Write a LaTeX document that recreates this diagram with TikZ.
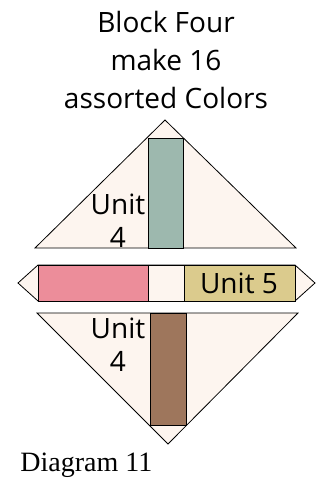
\documentclass[tikz,border=0pt]{standalone}
\usepackage{fontspec}
\setmainfont{Liberation Serif}
\setsansfont{Open Sans}

\definecolor{cream}{HTML}{FDF5EF}
\definecolor{sage}{HTML}{9DB8AE}
\definecolor{rose}{HTML}{EC8D9A}
\definecolor{straw}{HTML}{DBCB8D}
\definecolor{bark}{HTML}{9E765C}

\tikzstyle{quilt_style}=[x=1pt,y=-1pt,
  line width=0.8pt,
  patch/.style={draw=black,fill=cream},
  strip/.style={draw=black},
  label/.style={font=\sffamily\fontsize{28}{33}\selectfont,align=center,inner sep=0pt},
  caption/.style={font=\rmfamily\fontsize{28}{30}\selectfont,anchor=west,inner sep=0pt},]

\begin{document}
\begin{tikzpicture}[quilt_style]

    \useasboundingbox (0,0) rectangle (322,479);

    % Title
    \node[label,font=\sffamily\fontsize{28}{38}\selectfont] (title) at (166,60)
        {Block Four\\make 16\\assorted Colors};

    % Draw the upper triangle with its stripe
    \draw[patch] (35,248) -- (165,120) -- (296,248) -- cycle;
    \draw[strip,fill=sage] (148,138) rectangle (183,248);
    \node[label] (U-top) at (118,221) {Unit\\4};

    % Draw the middle strip
    \draw[patch] (18,283) -- (38,265) -- (295,265) -- (315,283) -- (295,301) -- (38,301) -- cycle;
    \foreach \xa / \xb / \col in {38/148/rose, 148/184/cream, 184/295/straw}
        \draw[strip,fill=\col] (\xa,265) rectangle (\xb,301);
    \node[label] (U-mid) at (239,283) {Unit 5};

    % Draw the lower triangle with its stripe
    \draw[patch] (37,313) -- (298,313) -- (168,444) -- cycle;
    \draw[strip,fill=bark] (150,313) rectangle (186,425);
    \node[label] (U-bot) at (118,345) {Unit\\4};

    \node[caption] (cap) at (20,465) {Diagram 11};

\end{tikzpicture}
\end{document}
